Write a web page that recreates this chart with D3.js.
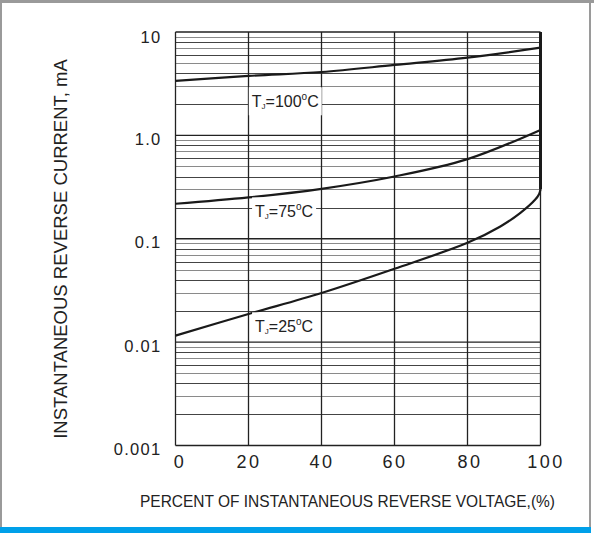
<!DOCTYPE html>
<html><head><meta charset="utf-8">
<script src="https://cdn.jsdelivr.net/npm/d3@7"></script>
<style>html,body{margin:0;padding:0;background:#fff;}svg{display:block;}</style>
</head><body>
<svg id="c" width="594" height="533"></svg>
<script>
const xTicks = [0, 20, 40, 60, 80, 100];
const yTicks = [10, 1, 0.1, 0.01, 0.001];
const yTickLabels = ["10", "1.0", "0.1", "0.01", "0.001"];
const pct100 = [0, 20, 40, 60, 80, 100];
const cur100 = [3.36, 3.76, 4.1, 4.8, 5.65, 7.05];
const pct75 = [0, 20, 40, 60, 80, 100];
const cur75 = [0.218, 0.251, 0.304, 0.400, 0.589, 1.13];
const pct25 = [0, 20, 40, 60, 80, 89, 94.5, 98.5, 99.6, 100];
const cur25 = [0.01156, 0.0187, 0.0299, 0.0513, 0.0914, 0.1315, 0.178, 0.238, 0.27, 0.30];
const knee = [0.30, 10];
const labels = [
  {t: "100", x: 20.9, v: 1.87},
  {t: "75", x: 21.8, v: 0.161},
  {t: "25", x: 21.8, v: 0.01245}
];

const FONT = "Liberation Sans, Arial, sans-serif";
const svg = d3.select("#c");
const W = 594, H = 533;
// frame
svg.append("rect").attr("x",0).attr("y",0).attr("width",W).attr("height",3).attr("fill","#9a9a9a");
svg.append("rect").attr("x",0).attr("y",0).attr("width",2).attr("height",H).attr("fill","#9a9a9a");
svg.append("rect").attr("x",589).attr("y",0).attr("width",2).attr("height",H).attr("fill","#9a9a9a");
svg.append("rect").attr("x",0).attr("y",527).attr("width",591).attr("height",6).attr("fill","#00a0e9");

const x = d3.scaleLinear().domain([0,100]).range([175.5, 540.5]);
const y = d3.scaleLog().domain([0.001, 10]).range([445.5, 32]);

const g = svg.append("g");
// minor grid
const minor = [];
for (let d = 0.001; d < 10; d *= 10) for (let k = 2; k <= 9; k++) minor.push(+(d*k).toPrecision(3));
g.selectAll(".mn").data(minor).enter().append("line")
  .attr("x1", x(0)).attr("x2", x(100))
  .attr("y1", d => Math.round(y(d))+0.5).attr("y2", d => Math.round(y(d))+0.5)
  .attr("stroke", (d,i) => (i%2 ? "#8a8a8a" : "#444")).attr("stroke-width", 1.2);
// major horizontal
g.selectAll(".mj").data(yTicks).enter().append("line")
  .attr("x1", x(0)).attr("x2", x(100))
  .attr("y1", d => y(d)).attr("y2", d => y(d))
  .attr("stroke", "#222").attr("stroke-width", 1.3);
// vertical grid
g.selectAll(".vg").data(xTicks).enter().append("line")
  .attr("x1", d => x(d)).attr("x2", d => x(d))
  .attr("y1", y(10)).attr("y2", y(0.001))
  .attr("stroke", "#222").attr("stroke-width", 1.3);

// axes labels via d3 axis
const yAxis = d3.axisLeft(y).tickValues(yTicks).tickSize(0).tickPadding(14)
  .tickFormat(d => yTickLabels[yTicks.indexOf(d)]);
const ya = svg.append("g").attr("transform", `translate(${x(0)},0)`).call(yAxis);
ya.select(".domain").remove();
ya.selectAll("text").attr("font-family",FONT).attr("font-size",16.5).attr("fill","#222")
  .attr("letter-spacing","1.3px").attr("dy","0.55em");
ya.selectAll(".tick").filter(d => d === 10).select("text").attr("dy","0.65em");

const xAxis = d3.axisBottom(x).tickValues(xTicks).tickSize(0).tickPadding(9.5);
const xa = svg.append("g").attr("transform", `translate(0,${y(0.001)})`).call(xAxis);
xa.select(".domain").remove();
xa.selectAll("text").attr("font-family",FONT).attr("font-size",18).attr("fill","#222").attr("letter-spacing","2.5px");
xa.selectAll(".tick").filter(d => d === 0).select("text").attr("dx","4");
xa.selectAll(".tick").filter(d => d === 100).select("text").attr("dx","5");
xa.selectAll(".tick").filter(d => d === 80).select("text").attr("dx","2");

// curves
const line = d3.line().x(d => x(d[0])).y(d => y(d[1])).curve(d3.curveCatmullRom.alpha(0.5));
const series = [[pct100, cur100], [pct75, cur75], [pct25, cur25]];
series.forEach(([p, c]) => {
  svg.append("path").datum(p.map((v,i) => [v, c[i]])).attr("d", line)
    .attr("fill","none").attr("stroke","#1a1a1a").attr("stroke-width",2.2);
});
svg.append("line").attr("x1", x(100)).attr("x2", x(100)).attr("y1", y(knee[0])).attr("y2", y(knee[1]))
  .attr("stroke","#1a1a1a").attr("stroke-width",3);

// temperature labels
labels.forEach(l => {
  const tg = svg.append("g").attr("transform", `translate(${x(l.x)},${y(l.v)})`);
  const t = tg.append("text").attr("font-family",FONT).attr("font-size",16).attr("fill","#222").attr("y",0);
  t.append("tspan").text("T");
  t.append("tspan").attr("font-size",8).attr("dy",2).text("J");
  t.append("tspan").attr("dy",-2).text("=" + l.t);
  t.append("tspan").attr("font-size",10).attr("dy",-7).text("o");
  t.append("tspan").attr("dy",7).text("C");
  const bb = t.node().getBBox();
  tg.insert("rect","text").attr("x",bb.x-3).attr("y",bb.y-4).attr("width",bb.width+6).attr("height",bb.height+8).attr("fill","#fff");
});

// axis titles
svg.append("text").attr("x", 347.5).attr("y", 507.3).attr("text-anchor","middle")
  .attr("font-family",FONT).attr("font-size",16.5).attr("fill","#222")
  .attr("textLength", 415).attr("lengthAdjust","spacingAndGlyphs")
  .text("PERCENT OF INSTANTANEOUS REVERSE VOLTAGE,(%)");
svg.append("text").attr("transform","translate(67,249) rotate(-90)").attr("text-anchor","middle")
  .attr("font-family",FONT).attr("font-size",18.5).attr("fill","#222")
  .text("INSTANTANEOUS  REVERSE  CURRENT, mA");
</script>
</body></html>
